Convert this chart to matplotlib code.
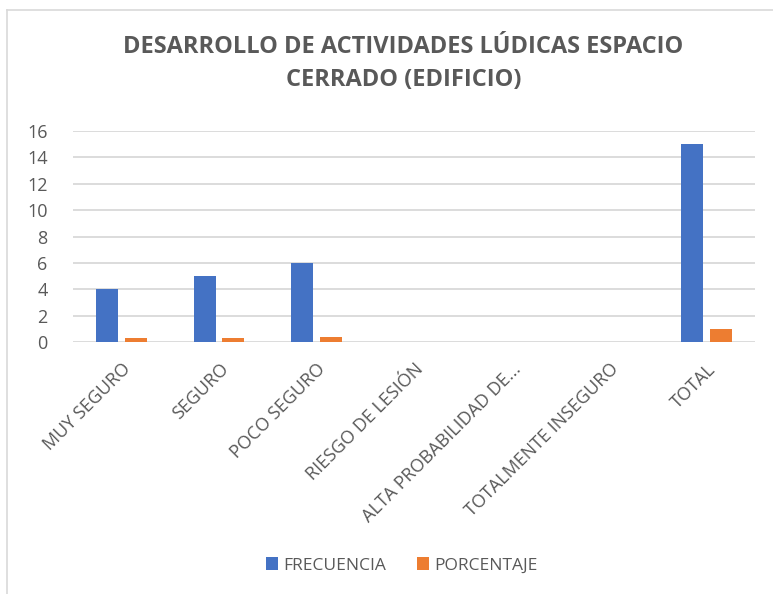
import numpy as np
import matplotlib.pyplot as plt
from matplotlib.lines import Line2D

categorias = ['MUY SEGURO', 'SEGURO', 'POCO SEGURO', 'RIESGO DE LESIÓN',
              'ALTA PROBABILIDAD DE...', 'TOTALMENTE INSEGURO', 'TOTAL']
frecuencia = [4, 5, 6, 0, 0, 0, 15]
porcentaje = [0.27, 0.33, 0.4, 0, 0, 0, 1]

gris = '#595959'
plt.rcParams['font.family'] = ['Open Sans', 'DejaVu Sans']

fig = plt.figure(figsize=(7.73, 5.94), dpi=100)
ax = fig.add_axes([0.0944, 0.4242, 0.8826, 0.3553])

x = np.arange(len(categorias))
w = 0.226
ax.bar(x - 0.146, frecuencia, w, color='#4472c4', label='FRECUENCIA', zorder=3)
ax.bar(x + 0.146, porcentaje, w, color='#ed7d31', label='PORCENTAJE', zorder=3)

ax.set_xlim(-0.5, len(categorias) - 0.5)
ax.set_ylim(0, 16)
ax.set_yticks(range(0, 17, 2))
ax.yaxis.grid(True, color='#d9d9d9', linewidth=1.3, zorder=0)
for s in ax.spines.values():
    s.set_visible(False)
ax.tick_params(axis='both', length=0, colors=gris, labelsize=13)
ax.set_xticks(x)
ax.set_xticklabels(categorias, rotation=45, ha='right', rotation_mode='anchor')
for lab in ax.get_yticklabels():
    lab.set_x(-0.03)
ax.tick_params(axis='x', pad=13)

fig.text(0.522, 0.893, 'DESARROLLO DE ACTIVIDADES LÚDICAS ESPACIO\nCERRADO (EDIFICIO)',
         ha='center', va='center', fontsize=17, fontweight='bold', color=gris,
         linespacing=1.5)

leg = fig.legend(loc='center', bbox_to_anchor=(0.52, 0.048), ncol=2, frameon=False,
                 fontsize=12.5, handlelength=0.7, handleheight=0.7, columnspacing=1.8,
                 handletextpad=0.3)
for t in leg.get_texts():
    t.set_color(gris)

# marco del gráfico
fig.add_artist(Line2D([7 / 773, 1], [1 - 10 / 594, 1 - 10 / 594], color='#d9d9d9', lw=1.2))
fig.add_artist(Line2D([7 / 773, 7 / 773], [0, 1 - 10 / 594], color='#d9d9d9', lw=1.2))

fig.savefig('out.png', dpi=100)
